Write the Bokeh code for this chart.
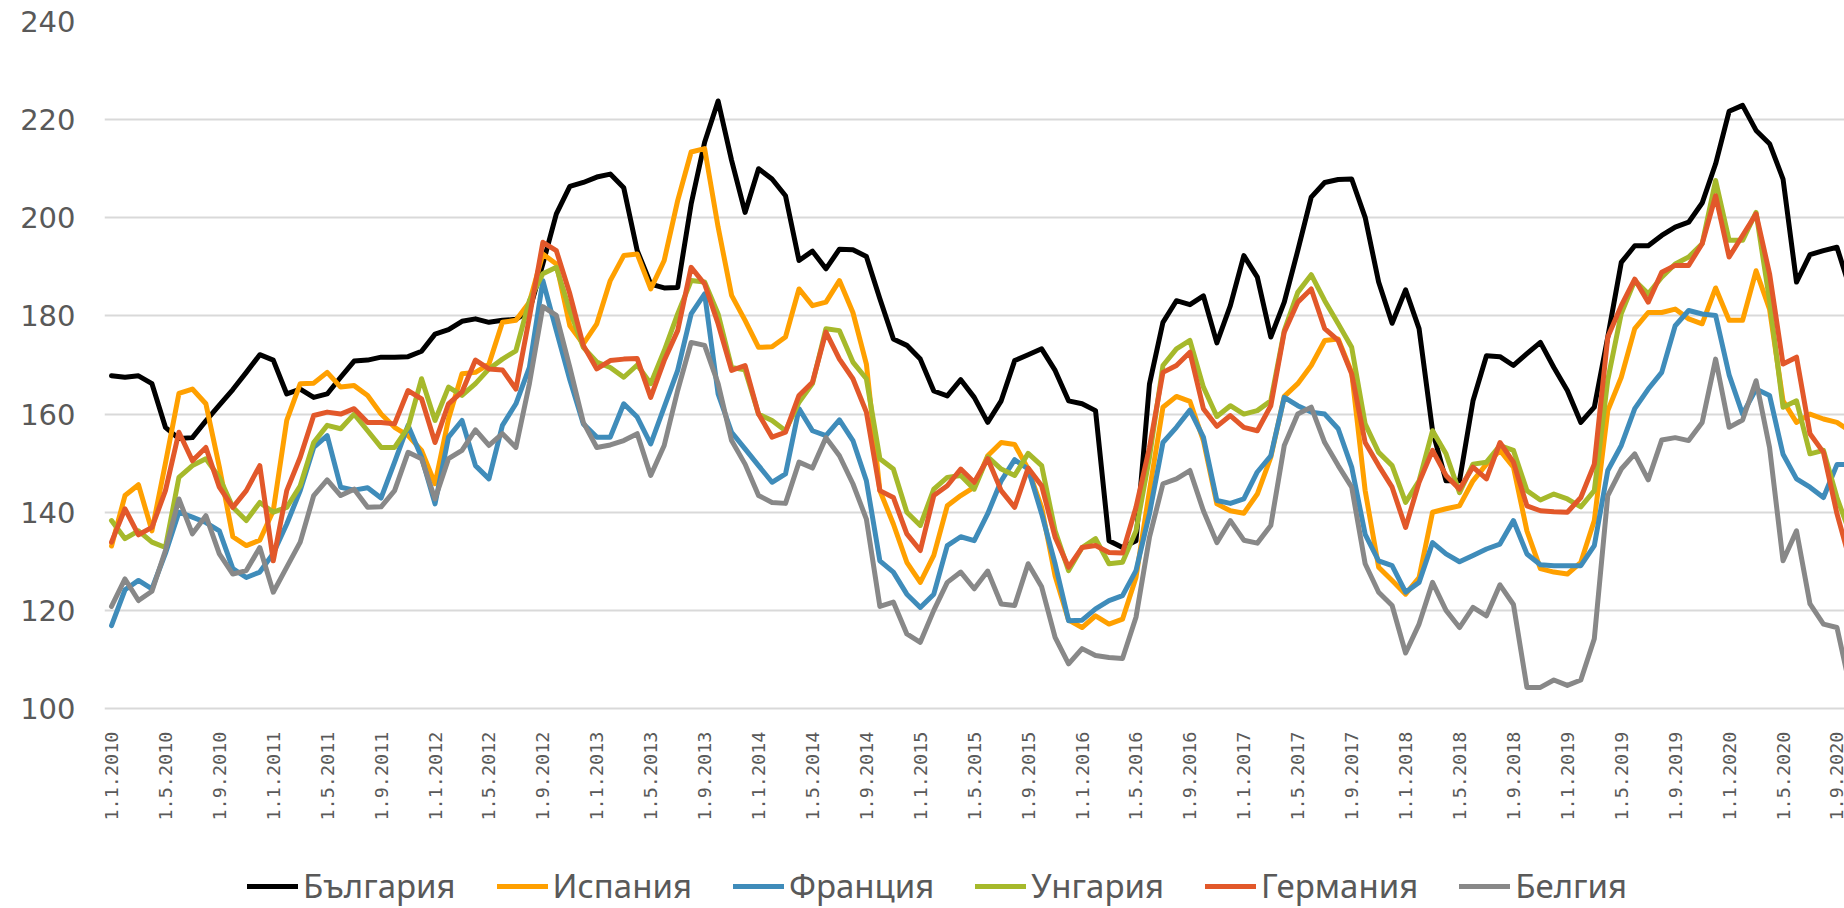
import numpy as np
from bokeh.plotting import figure
from bokeh.models import FixedTicker, Legend, LegendItem, Range1d
from bokeh.embed import file_html
from bokeh.resources import INLINE

# ---- data (monthly index values, Jan 2010 ...) ----
tick_labels = [f"1.{m}.{y}" for y in range(2010, 2021) for m in (1, 5, 9)]

bulgaria = [167.8, 167.5, 167.8, 166.2, 157.3, 155.0, 155.2, 158.6, 161.8, 165.0,
            168.5, 172.1, 171.0, 164.1, 165.1, 163.4, 164.1, 167.5, 170.8, 171.0,
            171.6, 171.6, 171.7, 172.8, 176.3, 177.2, 178.9, 179.4, 178.7, 179.1,
            179.3, 181.1, 190.6, 200.8, 206.4, 207.2, 208.3, 208.9, 206.1, 193.3,
            186.5, 185.7, 185.8, 202.8, 215.4, 223.8, 211.7, 201.1, 210.0, 207.9,
            204.5, 191.3, 193.2, 189.6, 193.6, 193.5, 192.1, 183.5, 175.3, 174.0,
            171.2, 164.7, 163.7, 167.0, 163.4, 158.3, 162.7, 170.9, 172.1, 173.3,
            168.9, 162.7, 162.1, 160.7, 134.2, 132.8, 134.2, 166.1, 178.7, 183.1,
            182.3, 184.1, 174.5, 182.1, 192.3, 187.9, 175.7, 182.8, 193.3, 204.2,
            207.2, 207.8, 207.9, 200.1, 186.9, 178.5, 185.3, 177.4, 156.6, 146.4,
            146.4, 162.7, 171.9, 171.7, 169.9, 172.3, 174.6, 169.5, 164.8, 158.3,
            161.4, 175.7, 190.9, 194.3, 194.3, 196.4, 198.1, 199.1, 203.0, 211.0,
            221.7, 222.9, 217.8, 215.1, 207.9, 186.9, 192.5, 193.3, 194.0, 185.3]

spain = [133.1, 143.4, 145.6, 136.2, 150.0, 164.2, 165.1, 162.1, 149.2, 135.0,
         133.2, 134.3, 140.3, 158.7, 166.2, 166.3, 168.5, 165.5, 165.8, 163.8,
         160.0, 157.3, 155.6, 152.6, 145.8, 159.0, 168.2, 168.5, 170.2, 178.7,
         179.1, 182.8, 192.6, 190.6, 178.0, 174.3, 178.4, 187.2, 192.3, 192.6,
         185.5, 191.3, 203.5, 213.4, 214.1, 198.1, 184.2, 179.1, 173.6, 173.7,
         175.7, 185.5, 182.1, 182.8, 187.2, 180.7, 170.2, 144.4, 137.6, 129.8,
         125.7, 131.2, 141.3, 143.4, 145.1, 151.5, 154.2, 153.8, 148.8, 141.0,
         127.0, 118.0, 116.5, 118.9, 117.2, 118.2, 126.7, 144.4, 161.4, 163.6,
         162.6, 154.6, 141.7, 140.3, 139.8, 143.7, 151.2, 163.6, 166.2, 169.9,
         175.0, 175.3, 168.5, 144.4, 128.8, 126.1, 123.3, 126.7, 140.0, 140.7,
         141.3, 146.4, 149.8, 152.6, 149.2, 136.2, 128.5, 127.8, 127.4, 129.8,
         138.3, 160.7, 167.5, 177.4, 180.7, 180.7, 181.4, 179.4, 178.4, 185.7,
         179.1, 179.1, 189.2, 181.4, 162.7, 158.3, 160.0, 159.0, 158.3, 156.5]

france = [116.9, 124.2, 126.1, 124.4, 131.6, 140.0, 139.0, 137.9, 136.2, 128.5,
          126.7, 127.8, 131.6, 137.6, 144.4, 153.2, 155.6, 145.1, 144.5, 145.0,
          142.9, 150.2, 157.7, 151.2, 141.7, 155.3, 158.7, 149.5, 146.8, 157.7,
          162.1, 169.5, 187.2, 177.0, 167.0, 158.0, 155.3, 155.3, 162.1, 159.4,
          153.9, 161.4, 168.9, 180.4, 184.5, 164.1, 156.3, 152.9, 149.5, 146.1,
          147.8, 161.1, 156.6, 155.6, 158.8, 154.6, 146.4, 130.1, 127.8, 123.3,
          120.6, 123.3, 133.2, 135.0, 134.2, 139.7, 146.4, 150.7, 148.8, 139.7,
          129.5, 117.9, 118.0, 120.3, 122.0, 123.0, 128.1, 139.7, 154.2, 157.3,
          160.8, 155.3, 142.4, 141.8, 142.7, 148.2, 151.5, 163.4, 161.7, 160.4,
          160.0, 157.0, 149.2, 135.5, 130.1, 129.1, 123.7, 125.7, 133.8, 131.5,
          129.9, 131.2, 132.5, 133.5, 138.3, 131.5, 129.3, 129.1, 129.1, 129.1,
          133.2, 148.5, 153.6, 161.1, 165.1, 168.5, 178.0, 181.1, 180.4, 180.1,
          168.0, 160.0, 165.1, 163.8, 151.8, 146.8, 145.1, 143.0, 149.7, 149.7]

hungary = [138.3, 134.6, 136.2, 133.9, 132.8, 147.1, 149.5, 150.9, 147.1, 141.0,
           138.3, 142.0, 140.0, 141.0, 145.4, 154.2, 157.7, 157.0, 160.0, 156.6,
           153.2, 153.2, 157.3, 167.2, 158.7, 165.5, 163.8, 166.2, 169.2, 171.2,
           172.9, 183.1, 188.6, 189.9, 181.1, 173.6, 170.6, 169.5, 167.5, 170.0,
           166.2, 172.9, 180.4, 187.2, 186.9, 180.4, 169.5, 169.0, 160.0, 158.7,
           156.6, 162.4, 166.2, 177.4, 177.0, 170.6, 167.2, 150.9, 148.8, 140.0,
           137.3, 144.7, 147.1, 147.5, 144.7, 151.3, 148.8, 147.5, 152.0, 149.5,
           136.2, 128.1, 132.8, 134.6, 129.5, 129.8, 136.2, 151.2, 169.9, 173.3,
           175.0, 165.5, 159.5, 161.7, 160.0, 160.7, 162.7, 177.0, 184.8, 188.4,
           183.1, 178.4, 173.6, 158.0, 152.2, 149.5, 142.0, 146.4, 156.6, 151.9,
           144.0, 149.8, 150.2, 153.6, 152.6, 144.4, 142.5, 143.7, 142.7, 141.1,
           144.4, 167.0, 180.5, 187.2, 184.5, 187.9, 190.6, 192.0, 194.7, 207.6,
           195.4, 195.4, 201.1, 183.1, 161.4, 162.7, 151.9, 152.6, 143.0, 135.4]

germany = [133.9, 140.7, 135.4, 136.9, 144.4, 156.3, 150.5, 153.2, 145.1, 141.0,
           144.4, 149.5, 130.1, 144.4, 151.2, 159.7, 160.4, 160.0, 161.1, 158.3,
           158.3, 158.0, 164.8, 163.1, 154.2, 162.1, 164.5, 171.0, 169.2, 169.0,
           165.1, 179.7, 195.0, 193.3, 184.5, 174.0, 169.2, 170.9, 171.2, 171.3,
           163.4, 170.9, 177.0, 189.9, 186.5, 178.4, 168.9, 169.9, 160.0, 155.3,
           156.3, 163.8, 166.5, 176.7, 171.2, 167.2, 160.4, 144.4, 143.0, 135.6,
           132.2, 143.4, 145.4, 148.8, 146.1, 150.9, 144.4, 141.0, 149.0, 145.4,
           134.9, 128.8, 132.8, 133.2, 131.8, 131.7, 141.0, 153.2, 168.5, 169.9,
           172.6, 161.1, 157.5, 159.7, 157.3, 156.6, 161.7, 176.7, 182.8, 185.5,
           177.4, 175.0, 168.2, 154.2, 149.5, 145.1, 136.9, 146.1, 152.6, 147.5,
           144.7, 149.2, 146.8, 154.2, 150.2, 141.3, 140.3, 140.1, 140.0, 143.0,
           149.8, 175.7, 182.1, 187.5, 182.8, 188.9, 190.3, 190.3, 194.7, 204.5,
           192.0, 196.4, 200.8, 188.6, 170.2, 171.6, 156.0, 152.2, 139.7, 129.8]

belgium = [120.8, 126.4, 122.0, 123.9, 132.2, 142.7, 135.6, 139.3, 131.5, 127.4,
           128.1, 132.8, 123.7, 128.8, 133.9, 143.4, 146.6, 143.4, 144.7, 141.0,
           141.1, 144.4, 152.2, 150.9, 142.7, 150.9, 152.6, 156.8, 153.6, 156.0,
           153.2, 166.2, 181.9, 180.1, 169.5, 158.3, 153.2, 153.7, 154.6, 156.0,
           147.5, 153.6, 164.8, 174.6, 174.0, 166.2, 154.6, 149.8, 143.4, 142.0,
           141.8, 150.2, 149.0, 155.2, 151.5, 145.8, 138.6, 120.8, 121.7, 115.2,
           113.5, 120.0, 125.7, 127.8, 124.4, 128.0, 121.3, 121.0, 129.5, 124.8,
           114.5, 109.1, 112.2, 110.8, 110.4, 110.2, 118.6, 134.9, 145.8, 146.8,
           148.5, 140.3, 133.8, 138.3, 134.3, 133.7, 137.3, 153.6, 160.0, 161.4,
           154.2, 149.5, 145.1, 129.5, 123.7, 121.0, 111.3, 117.2, 125.7, 120.0,
           116.5, 120.6, 118.9, 125.2, 121.2, 104.3, 104.3, 105.8, 104.7, 105.8,
           114.2, 143.4, 148.8, 151.9, 146.6, 154.7, 155.2, 154.6, 158.3, 171.2,
           157.3, 158.8, 166.8, 153.2, 130.1, 136.2, 121.3, 117.2, 116.5, 104.0]

series_names = ["България", "Испания", "Франция", "Унгария", "Германия", "Белгия"]
series_values = [bulgaria, spain, france, hungary, germany, belgium]
series_colors = ["#000000", "#FFA000", "#3F8CBA", "#A6B92B", "#E2582A", "#888888"]

# ---- figure ----
# The frame extends down to the bottom of the page so the legend can sit inside it;
# the value axis still shows 100..240 and the date axis is pinned at y = 100.
Y_BOTTOM = 100 - 200 / (687 / 140)
p = figure(width=1844, height=908, output_backend="svg", toolbar_location=None,
           x_range=Range1d(-0.52, 128.56), y_range=Range1d(Y_BOTTOM, 240),
           min_border_left=104, min_border_right=0, min_border_top=21,
           min_border_bottom=0)
p.outline_line_color = None
p.background_fill_color = "white"
p.border_fill_color = "white"

x = np.arange(len(bulgaria))
items = []
for name, vals, col in zip(series_names, series_values, series_colors):
    r = p.line(x, vals, line_color=col, line_width=5, line_join="round", line_cap="round")
    items.append(LegendItem(label=name, renderers=[r]))

# axes
xa = p.xaxis[0]
xa.fixed_location = 100
xa.ticker = FixedTicker(ticks=[4 * i for i in range(len(tick_labels))])
xa.major_label_overrides = {4 * i: t for i, t in enumerate(tick_labels)}
xa.major_label_orientation = np.pi / 2
xa.major_label_text_font = "DejaVu Sans Mono"
xa.major_label_text_font_size = "18.5px"
xa.major_label_text_color = "#595959"
xa.major_label_standoff = 23
xa.axis_line_color = None
xa.major_tick_line_color = None
xa.minor_tick_line_color = None
xa.major_tick_out = 0
xa.major_tick_in = 0

ya = p.yaxis[0]
ya.ticker = FixedTicker(ticks=list(range(100, 241, 20)))
ya.major_label_text_font = "DejaVu Sans"
ya.major_label_text_font_size = "29px"
ya.major_label_text_color = "#595959"
ya.major_label_standoff = 29
ya.axis_line_color = None
ya.major_tick_line_color = None
ya.minor_tick_line_color = None
ya.major_tick_out = 0
ya.major_tick_in = 0

p.xgrid.grid_line_color = None
p.ygrid.grid_line_color = "#D9D9D9"
p.ygrid.grid_line_width = 2

legend = Legend(items=items, orientation="horizontal", location=(143, 0),
                glyph_width=51, glyph_height=20, label_standoff=5, spacing=41,
                padding=0, margin=0, border_line_color=None, background_fill_alpha=0,
                label_text_font="Noto Sans", label_text_font_size="33px",
                label_text_color="#595959")
p.add_layout(legend)

open("out.html", "w").write(file_html(p, INLINE))
